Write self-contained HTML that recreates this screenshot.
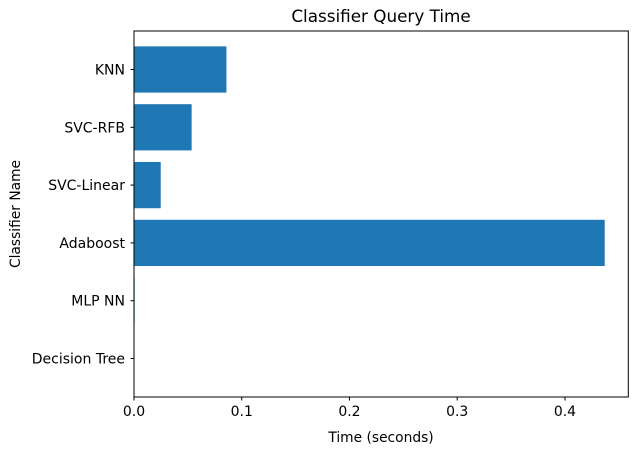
<!DOCTYPE html>
<html><head><meta charset="utf-8"><style>
body{margin:0;background:#fff;}
svg text{font-family:"DejaVu Sans","Liberation Sans",sans-serif;fill:#000;}
</style></head><body>
<svg width="643" height="453" id="c">
<text x="381" y="22" font-size="16.8" text-anchor="middle">Classifier Query Time</text>
<text x="381" y="442" font-size="13.8" text-anchor="middle">Time (seconds)</text>
<text transform="translate(20,214) rotate(-90)" font-size="13.8" text-anchor="middle">Classifier Name</text>
<g id="bars"></g><g id="ticks"></g>
<rect x="134" y="31" width="494.3" height="366" fill="none" stroke="#000" stroke-width="1"/>
</svg>
<script>
const categories=["Decision Tree","MLP NN","Adaboost","SVC-Linear","SVC-RFB","KNN"];
const values=[0.0004,0.0006,0.4369,0.0248,0.0535,0.0858];
const xTicks=[0,0.1,0.2,0.3,0.4];
const xTickLabels=["0.0","0.1","0.2","0.3","0.4"];
const L=134,R=628.3,T=31,B=397,XMAX=0.4588;
const x=v=>L+v/XMAX*(R-L);
const yMin=-0.666,yMax=5.666;
const y=i=>B-(i-yMin)/(yMax-yMin)*(B-T);
const NS="http://www.w3.org/2000/svg";
const bars=document.getElementById('bars'),ticks=document.getElementById('ticks');
function mk(t,a,p){const e=document.createElementNS(NS,t);for(const k in a)e.setAttribute(k,a[k]);p.appendChild(e);return e;}
const bh=0.8*(B-T)/(yMax-yMin);
categories.forEach((c,i)=>{
 const r=mk('rect',{x:L,y:y(i)-bh/2,width:x(values[i])-L,height:bh,fill:'#1f77b4'},bars);
 
 
 const l=mk('line',{x1:L-3.5,x2:L,y1:y(i),y2:y(i),stroke:'#000'},ticks);
 
 
 const t=mk('text',{x:L-9,y:y(i)+5,'font-size':14,'text-anchor':'end'},ticks);
 t.textContent=c;
 
 
});
xTicks.forEach((v,i)=>{
 const l=mk('line',{x1:x(v),x2:x(v),y1:B,y2:B+3.5,stroke:'#000'},ticks);
 
 
 const t=mk('text',{x:x(v),y:B+19,'font-size':14,'text-anchor':'middle'},ticks);
 t.textContent=xTickLabels[i];
 
 
});
</script>
</body></html>
